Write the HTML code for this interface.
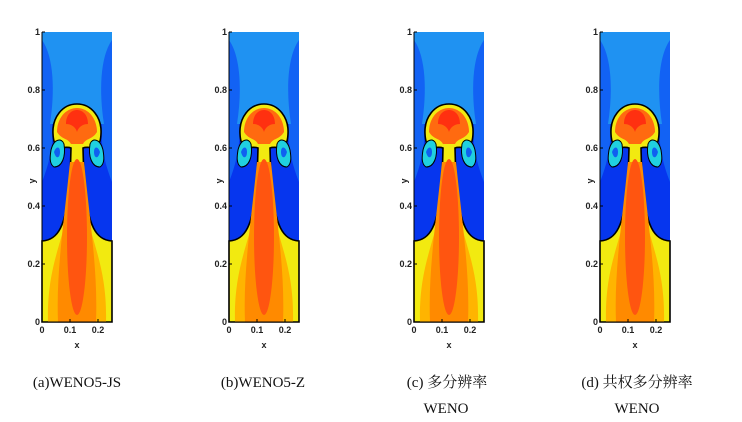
<!DOCTYPE html>
<html><head><meta charset="utf-8"><style>
body{margin:0;background:#fff;width:742px;height:422px;overflow:hidden}
svg{display:block}
.t{font-family:"Liberation Sans",sans-serif;font-size:9px;font-weight:bold;fill:#222}
.c{font-family:"Liberation Serif","Noto Serif CJK SC",serif;font-size:15px;fill:#111}
</style></head><body>
<svg width="742" height="422" viewBox="0 0 742 422">
<defs>
<g id="p">
<rect x="0" y="0" width="70" height="290" fill="#0636ee"/>
<path d="M0,0 H70 V150 C62,130 58,110 60,90 L10,90 C12,110 8,130 0,150 Z" fill="#1262f4"/>
<path d="M0,0 H70 V8 C58,25 57,60 62,92 L8,92 C13,60 12,25 0,8 Z" fill="#1f92f2"/>
<path d="M0,209 C16,208 24,195 28,150 L29,116 C22,113 12,122 11,102 C10,86 20,72 35,72 C50,72 60,86 59,102 C58,122 48,113 41,116 L42,150 C46,195 54,208 70,209 V290 H0 Z" fill="#f2ea10" stroke="#000" stroke-width="1.6"/>
<path d="M6,290 C5,245 15,222 25,185 L45,185 C55,222 65,245 64,290 Z" fill="#ffb400"/>
<path d="M16,290 C14,240 22,190 28,130 L42,130 C48,190 56,240 54,290 Z" fill="#ff8a00"/>
<path d="M15,100 C15,86 24,76 35,76 C46,76 55,86 55,100 C50,108 44,106 41,112 L29,112 C26,106 20,108 15,100 Z" fill="#ff6a10"/>
<path d="M24,92 C24,82 30,78 35,78 C40,78 46,82 46,92 C40,92 36,96 35,100 C34,96 30,92 24,92 Z" fill="#ff3010"/>
<ellipse cx="35" cy="205" rx="10" ry="78" fill="#ff5510"/>
<path d="M9,118 C12,106 20,106 22,112 C24,125 20,135 12,135 C7,132 8,124 9,118Z" fill="#20d0e0" stroke="#000" stroke-width="1"/>
<path d="M61,118 C58,106 50,106 48,112 C46,125 50,135 58,135 C63,132 62,124 61,118Z" fill="#20d0e0" stroke="#000" stroke-width="1"/>
<path d="M12,120 C14,114 18,114 18,120 C18,126 14,128 12,120Z" fill="#1060f0"/>
<path d="M58,120 C56,114 52,114 52,120 C52,126 56,128 58,120Z" fill="#1060f0"/>
<line x1="0" y1="0" x2="0" y2="290" stroke="#000" stroke-width="1"/>
<line x1="0" y1="290" x2="70" y2="290" stroke="#000" stroke-width="1"/>
<g stroke="#000" stroke-width="1">
<line x1="0" y1="0" x2="3" y2="0"/><line x1="0" y1="58" x2="3" y2="58"/><line x1="0" y1="116" x2="3" y2="116"/><line x1="0" y1="174" x2="3" y2="174"/><line x1="0" y1="232" x2="3" y2="232"/>
<line x1="28" y1="290" x2="28" y2="287"/><line x1="56" y1="290" x2="56" y2="287"/>
</g>
<text class="t" x="-2" y="3" text-anchor="end">1</text>
<text class="t" x="-2" y="61" text-anchor="end">0.8</text>
<text class="t" x="-2" y="119" text-anchor="end">0.6</text>
<text class="t" x="-2" y="177" text-anchor="end">0.4</text>
<text class="t" x="-2" y="235" text-anchor="end">0.2</text>
<text class="t" x="-2" y="293" text-anchor="end">0</text>
<text class="t" x="0" y="301" text-anchor="middle">0</text>
<text class="t" x="28" y="301" text-anchor="middle">0.1</text>
<text class="t" x="56" y="301" text-anchor="middle">0.2</text>
<text class="t" x="35" y="316" text-anchor="middle" font-size="11">x</text>
<text class="t" transform="translate(-7,149) rotate(-90)" text-anchor="middle" font-size="11">y</text>
</g>
</defs>
<use href="#p" x="42" y="32"/>
<use href="#p" x="229" y="32"/>
<use href="#p" x="414" y="32"/>
<use href="#p" x="600" y="32"/>
<text class="c" x="77" y="387" text-anchor="middle">(a)WENO5-JS</text>
<text class="c" x="263" y="387" text-anchor="middle">(b)WENO5-Z</text>
<text class="c" x="447" y="387" text-anchor="middle">(c) 多分辨率</text>
<text class="c" x="446" y="413" text-anchor="middle">WENO</text>
<text class="c" x="637" y="387" text-anchor="middle">(d) 共权多分辨率</text>
<text class="c" x="637" y="413" text-anchor="middle">WENO</text>
</svg>
</body></html>
